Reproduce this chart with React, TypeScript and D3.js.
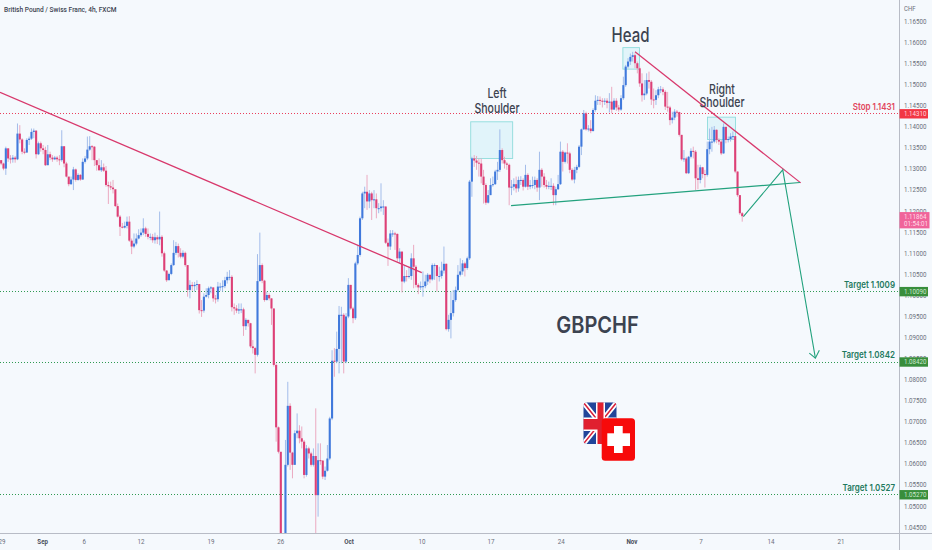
import React from "react";
import * as d3 from "d3";

const W = 932;
const H = 550;
const firstOpen = 1.1321;

const closes = [
1.1313,1.1301,1.1349,1.1325,1.1323,1.1327,1.1323,1.1384,1.1370,1.1341,1.1339,1.1369,1.1372,1.1388,1.1391,1.1335,1.1361,1.1349,1.1345,1.1309,
1.1335,1.1327,1.1323,1.1327,1.1323,1.1321,1.1354,1.1313,1.1282,1.1264,1.1275,1.1299,1.1274,1.1286,1.1275,1.1317,1.1325,1.1346,1.1354,1.1353,
1.1321,1.1309,1.1297,1.1304,1.1296,1.1262,1.1259,1.1256,1.1252,1.1212,1.1187,1.1163,1.1161,1.1165,1.1175,1.1130,1.1116,1.1123,1.1135,1.1143,
1.1149,1.1159,1.1146,1.1139,1.1139,1.1131,1.1138,1.1133,1.1139,1.1100,1.1059,1.1036,1.1051,1.1072,1.1101,1.1117,1.1101,1.1092,1.1101,1.1072,
1.1013,1.1025,1.1022,1.1025,1.1027,1.0965,1.0964,1.0997,1.1001,1.1017,1.1019,1.0993,1.0991,1.1021,1.1021,1.1022,1.1036,1.1044,1.1044,1.0972,
1.0969,1.0964,1.0967,1.0967,1.0927,1.0942,1.0934,1.0879,1.0875,1.0859,1.1034,1.1072,1.1035,1.0989,1.1001,1.0993,1.0969,1.0835,1.0687,1.0629,
1.0404,1.0396,1.0598,1.0738,1.0627,1.0598,1.0673,1.0679,1.0661,1.0653,1.0574,1.0637,1.0625,1.0598,1.0619,1.0526,1.0609,1.0608,1.0570,1.0584,
1.0613,1.0708,1.0845,1.0843,1.0873,1.0954,1.0954,1.0843,1.0950,1.1025,1.0969,1.0946,1.1076,1.1096,1.1183,1.1242,1.1246,1.1223,1.1242,1.1226,
1.1228,1.1207,1.1207,1.1211,1.1211,1.1125,1.1116,1.1147,1.1147,1.1146,1.1088,1.1104,1.1033,1.1046,1.1045,1.1046,1.1088,1.1068,1.1025,1.1019,
1.1022,1.1022,1.1033,1.1049,1.1038,1.1072,1.1072,1.1046,1.1046,1.1059,1.1075,1.0920,1.0942,1.0958,1.0989,1.1013,1.1049,1.1057,1.1076,1.1065,
1.1088,1.1270,1.1325,1.1320,1.1315,1.1313,1.1282,1.1262,1.1220,1.1238,1.1262,1.1264,1.1294,1.1298,1.1345,1.1321,1.1313,1.1310,1.1256,1.1258,
1.1264,1.1254,1.1274,1.1274,1.1258,1.1286,1.1258,1.1262,1.1262,1.1274,1.1256,1.1298,1.1282,1.1262,1.1258,1.1260,1.1260,1.1238,1.1252,1.1264,
1.1341,1.1317,1.1339,1.1337,1.1298,1.1275,1.1298,1.1305,1.1353,1.1394,1.1432,1.1394,1.1396,1.1390,1.1440,1.1462,1.1464,1.1462,1.1460,1.1462,
1.1457,1.1460,1.1441,1.1462,1.1446,1.1441,1.1468,1.1499,1.1543,1.1555,1.1566,1.1570,1.1551,1.1539,1.1503,1.1475,1.1479,1.1511,1.1507,1.1465,
1.1464,1.1475,1.1489,1.1489,1.1483,1.1448,1.1446,1.1416,1.1422,1.1436,1.1435,1.1381,1.1323,1.1325,1.1290,1.1329,1.1343,1.1341,1.1278,1.1274,
1.1304,1.1288,1.1286,1.1347,1.1365,1.1365,1.1393,1.1369,1.1365,1.1337,1.1400,1.1369,1.1371,1.1377,1.1378,1.1294,1.1238,1.1195,1.1188,
];

const highs = [
1.1321,1.1315,1.1353,1.1349,1.1333,1.1333,1.1331,1.1408,1.1404,1.1373,1.1349,1.1373,1.1377,1.1396,1.1396,1.1392,1.1365,1.1365,1.1357,1.1353,
1.1357,1.1341,1.1333,1.1331,1.1331,1.1333,1.1392,1.1354,1.1317,1.1278,1.1282,1.1305,1.1301,1.1290,1.1288,1.1325,1.1331,1.1377,1.1378,1.1357,
1.1354,1.1321,1.1325,1.1321,1.1313,1.1307,1.1270,1.1270,1.1274,1.1246,1.1218,1.1191,1.1172,1.1175,1.1187,1.1188,1.1135,1.1147,1.1147,1.1157,
1.1159,1.1183,1.1163,1.1159,1.1147,1.1146,1.1149,1.1143,1.1199,1.1143,1.1104,1.1060,1.1054,1.1076,1.1131,1.1127,1.1123,1.1112,1.1107,1.1104,
1.1072,1.1036,1.1032,1.1032,1.1036,1.1027,1.0989,1.1005,1.1017,1.1021,1.1022,1.1019,1.1001,1.1032,1.1030,1.1036,1.1044,1.1056,1.1060,1.1048,
1.0981,1.0977,1.0981,1.0981,1.0971,1.0946,1.0942,1.0935,1.0894,1.0878,1.1098,1.1149,1.1076,1.1037,1.1009,1.1005,1.0993,1.0969,1.0839,1.0689,
1.0605,1.0420,1.0657,1.0795,1.0744,1.0629,1.0680,1.0720,1.0692,1.0689,1.0657,1.0645,1.0641,1.0629,1.0637,1.0732,1.0649,1.0649,1.0609,1.0594,
1.0645,1.0712,1.0870,1.0875,1.0914,1.0975,1.0973,1.0958,1.0958,1.1041,1.1025,1.0973,1.1080,1.1120,1.1187,1.1246,1.1258,1.1286,1.1250,1.1246,
1.1250,1.1242,1.1219,1.1266,1.1226,1.1211,1.1135,1.1155,1.1155,1.1151,1.1147,1.1112,1.1104,1.1072,1.1060,1.1068,1.1100,1.1120,1.1072,1.1029,
1.1033,1.1057,1.1049,1.1053,1.1049,1.1076,1.1076,1.1072,1.1068,1.1080,1.1116,1.1076,1.0954,1.1009,1.1013,1.1021,1.1072,1.1088,1.1084,1.1080,
1.1092,1.1274,1.1329,1.1333,1.1331,1.1325,1.1325,1.1298,1.1266,1.1250,1.1278,1.1282,1.1298,1.1317,1.1394,1.1349,1.1329,1.1317,1.1313,1.1274,
1.1278,1.1282,1.1282,1.1283,1.1278,1.1310,1.1290,1.1274,1.1282,1.1282,1.1278,1.1341,1.1302,1.1290,1.1274,1.1270,1.1278,1.1266,1.1258,1.1286,
1.1365,1.1345,1.1341,1.1361,1.1341,1.1302,1.1305,1.1310,1.1357,1.1396,1.1440,1.1436,1.1404,1.1416,1.1444,1.1475,1.1473,1.1472,1.1468,1.1468,
1.1468,1.1480,1.1495,1.1468,1.1468,1.1452,1.1475,1.1519,1.1547,1.1563,1.1574,1.1578,1.1574,1.1555,1.1543,1.1527,1.1511,1.1527,1.1531,1.1511,
1.1491,1.1487,1.1495,1.1497,1.1494,1.1487,1.1483,1.1450,1.1436,1.1442,1.1440,1.1436,1.1381,1.1345,1.1329,1.1331,1.1349,1.1353,1.1345,1.1310,
1.1310,1.1305,1.1298,1.1365,1.1396,1.1400,1.1402,1.1394,1.1373,1.1369,1.1408,1.1400,1.1377,1.1385,1.1389,1.1378,1.1294,1.1238,1.1198,
];

const lows = [
1.1309,1.1297,1.1286,1.1317,1.1313,1.1315,1.1315,1.1321,1.1361,1.1335,1.1335,1.1339,1.1357,1.1369,1.1373,1.1325,1.1333,1.1341,1.1335,1.1307,
1.1309,1.1321,1.1317,1.1321,1.1317,1.1309,1.1317,1.1304,1.1280,1.1259,1.1262,1.1250,1.1270,1.1272,1.1272,1.1274,1.1313,1.1321,1.1343,1.1321,
1.1307,1.1296,1.1296,1.1293,1.1293,1.1258,1.1217,1.1250,1.1242,1.1210,1.1185,1.1141,1.1159,1.1159,1.1159,1.1127,1.1098,1.1112,1.1119,1.1133,
1.1139,1.1143,1.1139,1.1133,1.1131,1.1125,1.1123,1.1122,1.1119,1.1092,1.1056,1.1032,1.1038,1.1048,1.1070,1.1096,1.1090,1.1088,1.1088,1.1068,
1.0997,1.0993,1.1011,1.1009,1.1013,1.0957,1.0949,1.0959,1.0995,1.0993,1.1005,1.0985,1.0981,1.0985,1.1011,1.1009,1.1017,1.1028,1.1036,1.0962,
1.0954,1.0958,1.0956,1.0958,1.0904,1.0918,1.0926,1.0875,1.0862,1.0815,1.0855,1.1033,1.1029,1.0985,1.0988,1.0988,1.0930,1.0831,1.0653,1.0625,
1.0396,1.0380,1.0388,1.0594,1.0586,1.0566,1.0598,1.0661,1.0649,1.0637,1.0566,1.0570,1.0613,1.0594,1.0594,1.0436,1.0475,1.0598,1.0564,1.0562,
1.0582,1.0609,1.0704,1.0807,1.0839,1.0815,1.0839,1.0815,1.0839,1.0946,1.0966,1.0934,1.0942,1.1072,1.1092,1.1179,1.1207,1.1203,1.1207,1.1179,
1.1207,1.1183,1.1195,1.1199,1.1191,1.1122,1.1070,1.1108,1.1139,1.1108,1.1080,1.1076,1.1007,1.1029,1.1033,1.1040,1.1037,1.1017,1.1019,1.1003,
1.1013,1.0997,1.1017,1.1025,1.1029,1.1035,1.1037,1.1009,1.1033,1.1040,1.1052,1.0917,1.0914,1.0898,1.0950,1.0985,1.1009,1.1045,1.1049,1.1045,
1.1061,1.1084,1.1234,1.1305,1.1298,1.1282,1.1266,1.1218,1.1215,1.1218,1.1238,1.1258,1.1262,1.1274,1.1293,1.1313,1.1301,1.1298,1.1214,1.1238,
1.1249,1.1244,1.1246,1.1262,1.1249,1.1256,1.1250,1.1252,1.1254,1.1252,1.1246,1.1226,1.1258,1.1256,1.1252,1.1252,1.1250,1.1214,1.1214,1.1250,
1.1262,1.1294,1.1313,1.1313,1.1290,1.1272,1.1266,1.1290,1.1302,1.1333,1.1393,1.1391,1.1389,1.1385,1.1389,1.1436,1.1452,1.1452,1.1446,1.1452,
1.1444,1.1434,1.1432,1.1440,1.1438,1.1436,1.1438,1.1464,1.1495,1.1539,1.1547,1.1555,1.1539,1.1527,1.1495,1.1460,1.1464,1.1475,1.1491,1.1452,
1.1444,1.1452,1.1468,1.1480,1.1475,1.1440,1.1436,1.1404,1.1408,1.1416,1.1424,1.1377,1.1320,1.1317,1.1288,1.1288,1.1325,1.1325,1.1250,1.1252,
1.1266,1.1278,1.1256,1.1282,1.1335,1.1341,1.1361,1.1361,1.1357,1.1333,1.1336,1.1361,1.1363,1.1365,1.1369,1.1290,1.1234,1.1191,1.1175,
];

const priceTicks = [1.165,1.16,1.155,1.15,1.145,1.14,1.135,1.13,1.125,1.12,1.115,1.11,1.105,1.1,1.095,1.09,1.085,1.08,1.075,1.07,1.065,1.06,1.055,1.05,1.045];
const timeBars = [0.4,17.8,35.7,60,90,120,149.3,180.6,210.2,240.3,270.7,300.3,330.4,360.4];
const timeLabels = ["29","Sep","6","12","19","26","Oct","10","17","24","Nov","7","14","21"];
const boldLabels = ["Sep","Oct","Nov"];

const levelPrices = [1.1431,1.1009,1.0842,1.0527];
const levelTexts = ["Stop 1.1431","Target 1.1009","Target 1.0842","Target 1.0527"];
const levelBadges = ["1.14310","1.10090","1.08420","1.05270"];
const lastPrice = 1.11864;
const lastLabels = ["1.11864","01:54:01"];

const downTrend: [number,number][] = [[-0.5,1.1482],[180.5,1.1054]];
const topTrend: [number,number][] = [[272,1.1578],[343.1,1.1267]];
const neckline: [number,number][] = [[218.8,1.1213],[342.8,1.1268]];
const projection: [number,number][] = [[318.5,1.1187],[335.4,1.1298],[349.4,1.0851]];
const arrowHead: [number,number][] = [[346.8,1.0863],[349.4,1.0851],[351.1,1.0870]];
const zones: [number,number,number,number][] = [[201.5,219.5,1.1412,1.1325],[266.8,273.9,1.1588,1.1537],[303.1,315.1,1.1423,1.1370]];

const BG = "#f5f9fd";
const BLUE = "#4079dc";
const PINK = "#dd4076";
const BLUE_W = "#a3bdea";
const PINK_W = "#ebaac1";
const TREND = "#d8386c";
const GREEN = "#23a27e";
const AXIS = "#b8bcc6";
const FONT = "Roboto, 'Noto Sans', sans-serif";
const INTER = "Inter, Roboto, sans-serif";

const x = d3.scaleLinear().domain([-0.5, 385.5]).range([0, 899.5]);
const y = d3.scaleLinear().domain([1.165, 1.045]).range([21.5, 527.2]);
const line = d3.line<[number,number]>().x(d => x(d[0])).y(d => y(d[1]));
const bw = 2.1;

function T({ px, py, sy = 1.15, children, ...rest }: any) {
  return <text transform={`translate(${px},${py}) scale(1,${sy})`} {...rest}>{children}</text>;
}

export default function App() {
  return (
    <svg width={W} height={H} viewBox={`0 0 ${W} ${H}`} style={{position:"fixed",left:0,top:0,background:BG,display:"block"}}>
      <defs>
        <clipPath id="plot"><rect x={0} y={0} width={899.5} height={533}/></clipPath>
        <clipPath id="uk"><rect x={583.3} y={402.3} width={33.4} height={41.7} rx={4}/></clipPath>
      </defs>
      <T px={4} py={12} fontFamily={FONT} fontSize={6.6} fill="#3d4452" fontWeight={500}>British Pound / Swiss Franc, 4h, FXCM</T>

      {zones.map((z,i)=>(
        <rect key={i} x={x(z[0])} width={x(z[1])-x(z[0])} y={y(z[2])} height={y(z[3])-y(z[2])} fill="#00bcd4" fillOpacity={0.08} stroke="#8fdcdc" strokeWidth={0.9}/>
      ))}

      {levelPrices.map((p,i)=>(
        <line key={i} x1={0} x2={899} y1={Math.floor(y(p))+0.5} y2={Math.floor(y(p))+0.5} stroke={i===0?"#ea3f5c":"#2f9a52"} strokeWidth={1} strokeDasharray="1 2" shapeRendering="crispEdges"/>
      ))}

      <g clipPath="url(#plot)">
        {closes.map((c,i)=>{
          const o = i===0?firstOpen:closes[i-1];
          const up = c>=o;
          const cx = x(i);
          const t = y(Math.max(o,c));
          const b = y(Math.min(o,c));
          return (
            <g key={i}>
              <line x1={cx} x2={cx} y1={y(highs[i])} y2={y(lows[i])} stroke={up?BLUE_W:PINK_W} strokeWidth={1}/>
              <rect x={cx-bw/2} width={bw} y={t} height={Math.max(b-t,1)} fill={up?BLUE:PINK}/>
            </g>
          );
        })}
        <path d={line(downTrend)!} stroke={TREND} strokeWidth={1.3} fill="none"/>
        <path d={line(topTrend)!} stroke={TREND} strokeWidth={1.2} fill="none"/>
        <path d={line(neckline)!} stroke={GREEN} strokeWidth={1.2} fill="none"/>
        <path d={line(projection)!} stroke={GREEN} strokeWidth={1.1} fill="none"/>
        <path d={line(arrowHead)!} stroke={GREEN} strokeWidth={1.1} fill="none"/>
      </g>

      <g fontFamily={INTER} fill="#3c4350" textAnchor="middle" fontWeight={500}>
        <T px={497} py={98.3} sy={1.3} fontSize={10.5}>Left</T>
        <T px={497} py={112.7} sy={1.3} fontSize={10.5}>Shoulder</T>
        <T px={722} py={94.3} sy={1.3} fontSize={10.5}>Right</T>
        <T px={722} py={107.3} sy={1.3} fontSize={10.5}>Shoulder</T>
        <T px={630.5} py={41.7} sy={1.3} fontSize={15}>Head</T>
        <T px={597.5} py={333} sy={1.17} fontSize={20} fontWeight={600}>GBPCHF</T>
      </g>

      {levelTexts.map((t,i)=>(
        <T key={i} px={895} py={y(levelPrices[i])-4} sy={1.2} textAnchor="end" fontFamily={INTER} fontSize={8} fontWeight={600} fill={i===0?"#e2475f":"#1f7a5f"}>{t}</T>
      ))}

      <g>
        <g clipPath="url(#uk)">
          <rect x={583.3} y={402.3} width={33.4} height={41.7} fill="#21459a"/>
          <path d="M583.3 402.3 L616.7 444 M616.7 402.3 L583.3 444" stroke="#fff" strokeWidth={5}/>
          <path d="M583.3 402.3 L616.7 444 M616.7 402.3 L583.3 444" stroke="#d8203a" strokeWidth={1.5}/>
          <rect x={596} y={402.3} width={9} height={41.7} fill="#fff"/>
          <rect x={583.3} y={417.5} width={33.4} height={13.5} fill="#fff"/>
          <rect x={597.5} y={402.3} width={6} height={41.7} fill="#e0202f"/>
          <rect x={583.3} y={419} width={33.4} height={10.5} fill="#e0202f"/>
        </g>
        <rect x={601.7} y={418.3} width={33.3} height={42.4} rx={3.5} fill="#f70a0a"/>
        <rect x={614} y={426} width={8.7} height={27} fill="#fff"/>
        <rect x={607.3} y={433.3} width={22.7} height={12.7} fill="#fff"/>
      </g>

      <line x1={899.5} x2={899.5} y1={0} y2={H} stroke={AXIS} strokeWidth={1}/>
      <line x1={0} x2={W} y1={533.5} y2={533.5} stroke={AXIS} strokeWidth={1}/>

      <T px={904} py={10.5} fontFamily={FONT} fontSize={6} fill="#6a6f7b">CHF</T>
      {priceTicks.map(p=>(
        <T key={p} px={904} py={y(p)+2.4} fontFamily={FONT} fontSize={6.2} fill="#6a6f7b">{p.toFixed(5)}</T>
      ))}
      {timeBars.map((b,i)=>(
        <T key={i} px={x(b)} py={544} textAnchor="middle" fontFamily={FONT} fontSize={6.2} fill={boldLabels.includes(timeLabels[i])?"#4a4f5b":"#6a6f7b"} fontWeight={boldLabels.includes(timeLabels[i])?700:400}>{timeLabels[i]}</T>
      ))}

      {levelPrices.map((p,i)=>(
        <g key={i}>
          <rect x={899.5} y={y(p)-4.7} width={28.5} height={9.4} fill={i===0?"#f23645":"#388e3c"}/>
          <T px={904} py={y(p)+2.4} fontFamily={FONT} fontSize={6.2} fill={i===0?"#ffd9dd":"#cfe8d2"}>{levelBadges[i]}</T>
        </g>
      ))}
      <rect x={899.5} y={y(lastPrice)-4.8} width={30} height={16.3} fill="#f0649a"/>
      <T px={904} py={y(lastPrice)+2.4} fontFamily={FONT} fontSize={6.2} fill="#ffdde9">{lastLabels[0]}</T>
      <T px={904} py={y(lastPrice)+9.4} fontFamily={FONT} fontSize={6.2} fill="#ffdde9">{lastLabels[1]}</T>
    </svg>
  );
}
